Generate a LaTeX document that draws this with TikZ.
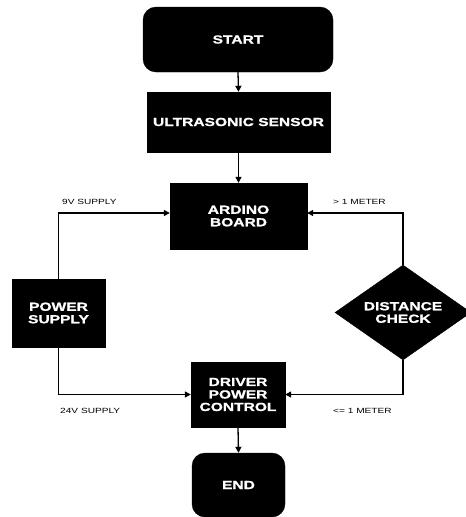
\documentclass[tikz,border=0pt]{standalone}
\usepackage{fontspec}
\usetikzlibrary{shapes.geometric,arrows.meta}
\newfontfamily\boxfont{Liberation Sans}[FakeStretch=1.33,FakeBold=1.2]
\newfontfamily\lblfont{Liberation Sans}[FakeStretch=1.35]
\begin{document}
\begin{tikzpicture}[x=1pt,y=-1pt,
  blk/.style={fill=black,draw=black,text=white,inner sep=0pt,align=center,
    font=\boxfont\bfseries\fontsize{11.7}{12.5}\selectfont},
  rblk/.style={blk,rounded corners=13pt},
  lbl/.style={inner sep=0pt,anchor=west,font=\lblfont\fontsize{7.5}{8}\selectfont},
  conn/.style={line width=1.3pt,-{Triangle[length=6pt,width=6pt]}},
  line/.style={line width=1.3pt}]
\useasboundingbox (0,0) rectangle (466,517);
\node[rblk,minimum width=190pt,minimum height=65pt] (start) at (238,39.5) {START};
\node[blk,minimum width=183pt,minimum height=60pt] (ultra) at (238.5,122) {ULTRASONIC SENSOR};
\node[blk,minimum width=137pt,minimum height=66pt] (ard) at (238.5,216) {ARDINO\\BOARD};
\node[blk,minimum width=93pt,minimum height=68pt] (pow) at (58.5,313) {POWER\\SUPPLY};
\node[blk,shape=diamond,aspect=1.43,minimum width=136pt,minimum height=95pt] (dist) at (403,312.5) {DISTANCE\\CHECK};
\node[blk,minimum width=94pt,minimum height=65pt] (drv) at (238,394.5) {DRIVER\\POWER\\CONTROL};
\node[rblk,minimum width=93pt,minimum height=64pt] (end) at (238.5,485) {END};
\draw[conn] (start.south) -- (ultra.north);
\draw[conn] (ultra.south) -- (ard.north);
\draw[conn] (pow.north) |- ([yshift=3pt]ard.west);
\draw[conn] (dist.north) |- ([yshift=3pt]ard.east);
\draw[conn] (pow.south) |- (drv.west);
\draw[conn] (dist.south) |- (drv.east);
\draw[conn] (drv.south) -- (end.north);
\node[lbl] (l9) at (62,202) {9V SUPPLY};
\node[lbl] (lgt) at (333,202) {> 1 METER};
\node[lbl] (l24) at (60,411) {24V SUPPLY};
\node[lbl] (lle) at (333,411) {<= 1 METER};
\end{tikzpicture}
\end{document}
